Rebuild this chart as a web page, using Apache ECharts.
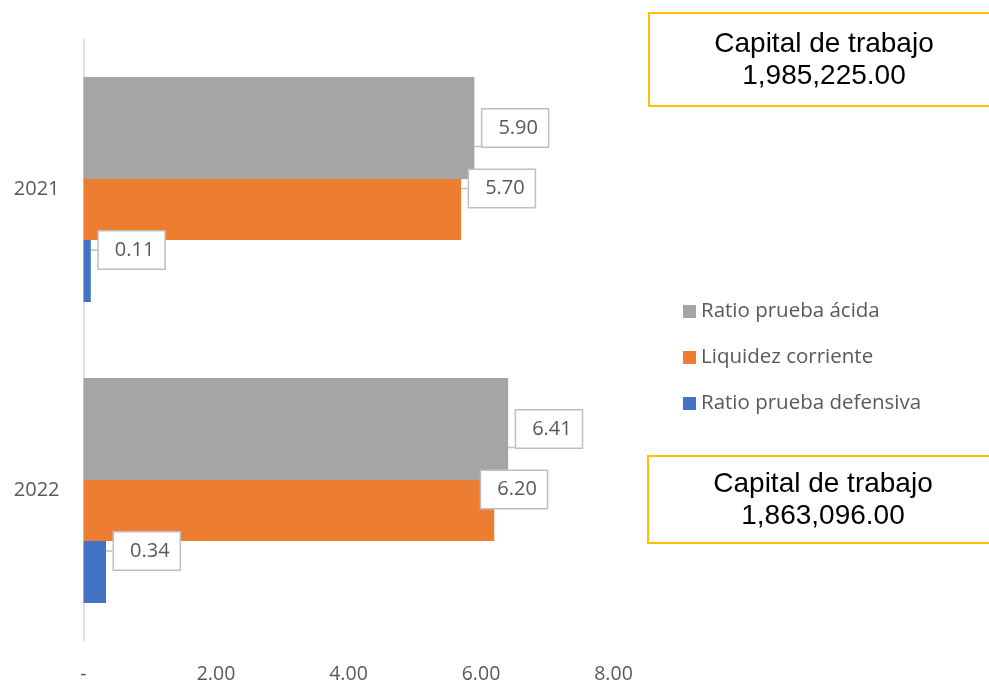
<!DOCTYPE html>
<html>
<head>
<meta charset="utf-8">
<script src="https://cdn.jsdelivr.net/npm/echarts@6/dist/echarts.min.js"></script>
<style>html,body{margin:0;padding:0;background:#fff;}#c{width:989px;height:681px;}</style>
</head>
<body>
<div id="c"></div>
<script>
// Data
const years = ['2021', '2022'];
const seriesNames = ['Ratio prueba ácida', 'Liquidez corriente', 'Ratio prueba defensiva'];
const acida = [5.90, 6.41];
const liquidez = [5.70, 6.20];
const defensiva = [0.11, 0.34];
const capitalTrabajo = [1985225.00, 1863096.00];
const xTicks = [0, 2, 4, 6, 8];

const colors = ['#A5A5A5', '#ED7D31', '#4472C4'];
const FONT = "'Open Sans', 'Noto Sans', sans-serif";
const TXT = '#595959';

function fmtNum(v) {
  return v.toLocaleString('en-US', {minimumFractionDigits: 2, maximumFractionDigits: 2});
}

const labelBase = {
  show: true,
  position: 'right',
  distance: 8,
  formatter: p => p.value.toFixed(2),
  color: TXT,
  fontFamily: FONT,
  fontSize: 20,
  lineHeight: 21,
  backgroundColor: '#fff',
  borderColor: '#BFBFBF',
  borderWidth: 1.5,
  padding: [8, 10, 8, 16]
};
const labelLine = {show: true, lineStyle: {color: '#BFBFBF', width: 1.5}};

const chart = echarts.init(document.getElementById('c'), null, {renderer: 'canvas'});
chart.setOption({
  animation: false,
  backgroundColor: '#fff',
  grid: {left: 83.5, right: 375.5, top: 39, bottom: 40, containLabel: false, outerBoundsMode: 'none'},
  legend: {
    data: seriesNames,
    orient: 'vertical',
    left: 683,
    top: 301,
    padding: 0,
    itemWidth: 13,
    itemHeight: 13,
    itemGap: 25,
    icon: 'rect',
    textStyle: {color: TXT, fontFamily: FONT, fontSize: 20.5, lineHeight: 21}
  },
  xAxis: {
    type: 'value',
    min: xTicks[0],
    max: xTicks[xTicks.length - 1],
    interval: 2,
    axisLine: {show: false},
    axisTick: {show: false},
    splitLine: {show: false},
    axisLabel: {
      color: TXT, fontFamily: FONT, fontSize: 19.5, margin: 23,
      formatter: v => v === 0 ? '-' : v.toFixed(2)
    }
  },
  yAxis: {
    type: 'category',
    data: years,
    inverse: true,
    axisLine: {show: true, lineStyle: {color: '#D9D9D9', width: 1.5}},
    axisTick: {show: false},
    axisLabel: {color: TXT, fontFamily: FONT, fontSize: 20, margin: 24}
  },
  series: [
    {
      name: seriesNames[0], type: 'bar', data: acida, barWidth: 102, barGap: '0%',
      itemStyle: {color: colors[0]},
      label: labelBase, labelLine: labelLine
    },
    {
      name: seriesNames[1], type: 'bar', data: liquidez, barWidth: 61, barGap: '0%',
      itemStyle: {color: colors[1]},
      label: labelBase, labelLine: labelLine,
      labelLayout: p => ({dy: -21, dx: p.dataIndex === 1 ? -21 : 0})
    },
    {
      name: seriesNames[2], type: 'bar', data: defensiva, barWidth: 62, barGap: '0%',
      itemStyle: {color: colors[2]},
      label: labelBase, labelLine: labelLine,
      labelLayout: {dy: -21}
    }
  ],
  graphic: [
    {
      type: 'group', left: 648, top: 12,
      children: [
        {type: 'rect', shape: {x: 0, y: 0, width: 350, height: 93},
         style: {fill: '#fff', stroke: '#FFC000', lineWidth: 2}},
        {type: 'text', x: 175, y: 47,
         style: {text: 'Capital de trabajo\n' + fmtNum(capitalTrabajo[0]), fill: '#000',
                 font: "28px 'Liberation Sans', Arial, sans-serif", lineHeight: 32,
                 textAlign: 'center', textVerticalAlign: 'middle'}}
      ]
    },
    {
      type: 'group', left: 647, top: 455,
      children: [
        {type: 'rect', shape: {x: 0, y: 0, width: 350, height: 87},
         style: {fill: '#fff', stroke: '#FFC000', lineWidth: 2}},
        {type: 'text', x: 175, y: 44,
         style: {text: 'Capital de trabajo\n' + fmtNum(capitalTrabajo[1]), fill: '#000',
                 font: "28px 'Liberation Sans', Arial, sans-serif", lineHeight: 32,
                 textAlign: 'center', textVerticalAlign: 'middle'}}
      ]
    }
  ]
});
</script>
</body>
</html>
